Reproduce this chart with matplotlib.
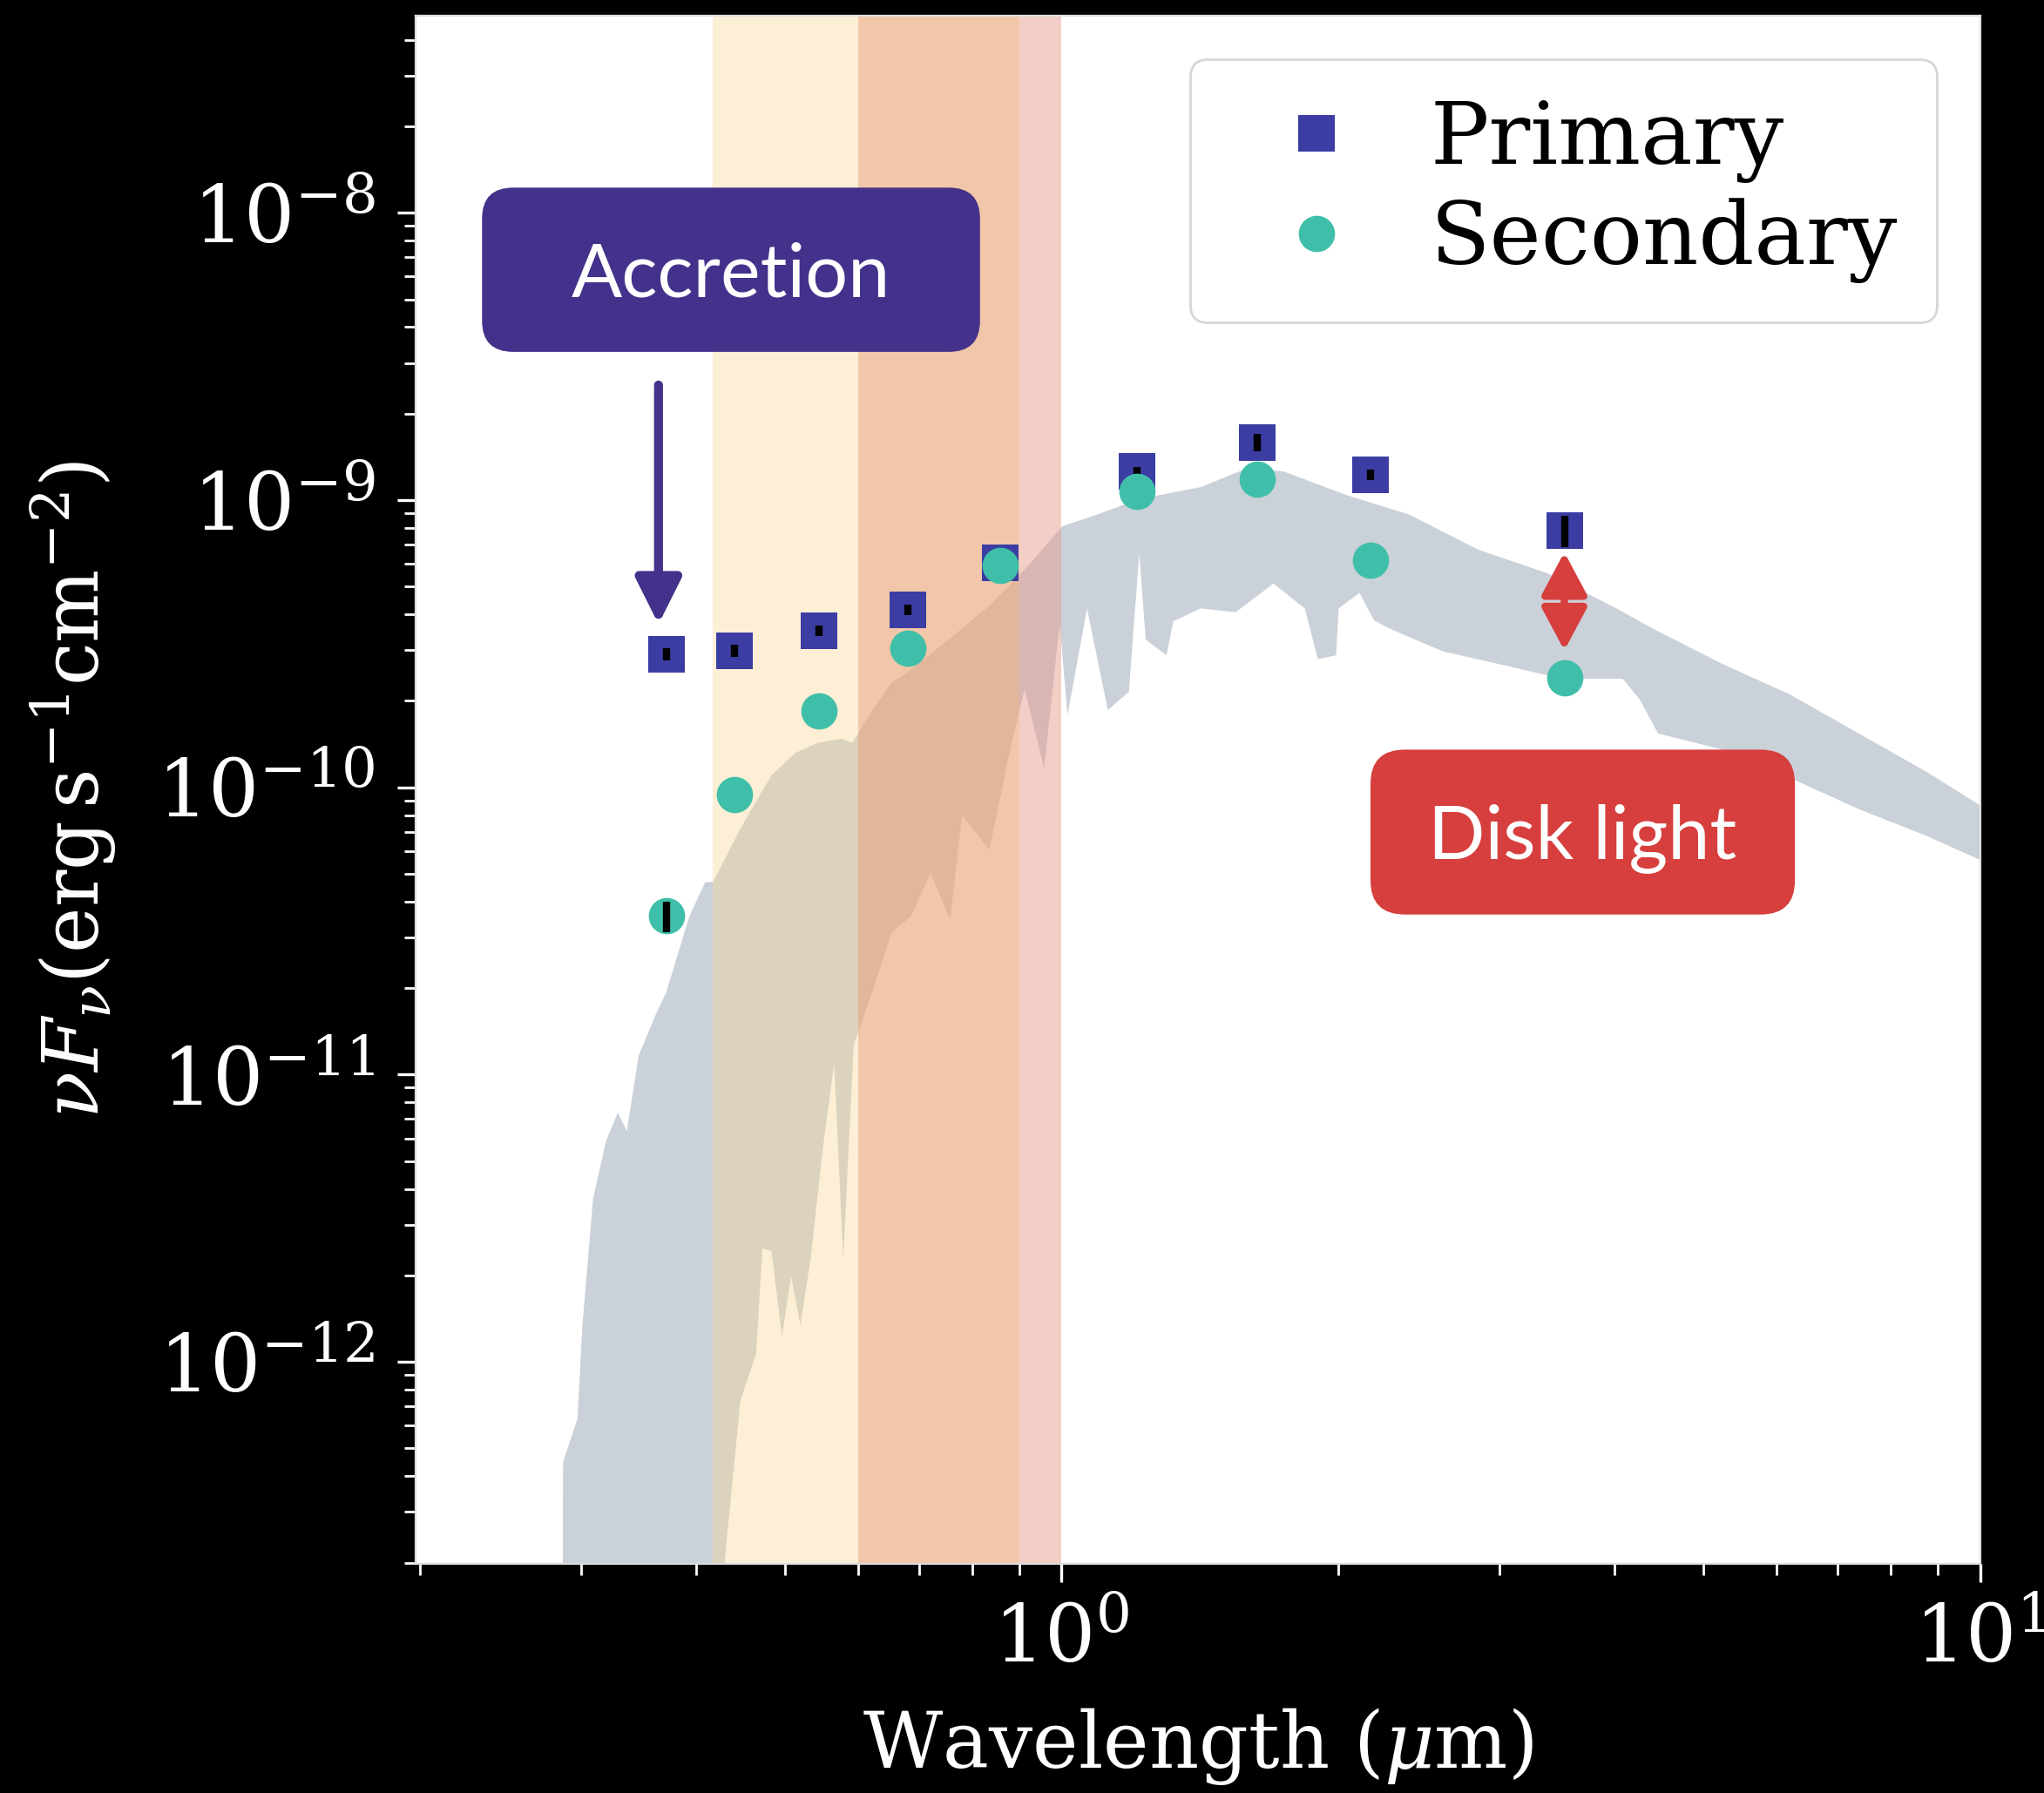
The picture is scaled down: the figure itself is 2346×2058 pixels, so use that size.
import numpy as np
import matplotlib
matplotlib.use("Agg")
import matplotlib.pyplot as plt
from matplotlib.patches import FancyBboxPatch
from matplotlib.ticker import NullFormatter

plt.rcParams['font.family'] = 'DejaVu Serif'
plt.rcParams['mathtext.fontset'] = 'dejavuserif'

# photometry: wavelength (um) and nu F_nu (erg s^-1 cm^-2)
band_wl = [0.3716, 0.4407, 0.5447, 0.6804, 0.858, 1.209, 1.635, 2.170, 3.528]
primary_flux = [2.909e-10, 2.989e-10, 3.506e-10, 4.150e-10, 6.065e-10,
                1.257e-9, 1.591e-9, 1.226e-9, 7.837e-10]
primary_err = [1.4e-11, 1.4e-11, 1.4e-11, 1.7e-11, 2e-11,
               4.5e-11, 1.1e-10, 5.5e-11, 1.0e-10]
secondary_flux = [3.565e-11, 9.46e-11, 1.846e-10, 3.042e-10, 5.927e-10,
                  1.075e-9, 1.180e-9, 6.19e-10, 2.413e-10]
secondary_err = [4.3e-12, 0, 0, 0, 0, 0, 0, 0, 0]

# model spectrum envelope (upper / lower edge of the shaded region)
spec_wl_upper = [0.2857, 0.2866, 0.2971, 0.3010, 0.3090, 0.3191, 0.3287, 0.3363,
                 0.3464, 0.3614, 0.3710, 0.3935, 0.4093, 0.4174, 0.4470, 0.4833,
                 0.5128, 0.5437, 0.5768, 0.5920, 0.6237, 0.6529, 0.6858, 0.7563,
                 0.8345, 0.9204, 1.002, 1.094, 1.215, 1.417, 1.599, 1.746, 2.043,
                 2.389, 2.842, 3.380, 4.018, 4.389, 5.220, 6.207, 7.379, 8.774, 10.0]
spec_flux_upper = [1e-14, 4.48e-13, 6.32e-13, 1.369e-12, 3.694e-12, 5.85e-12,
                   7.36e-12, 6.36e-12, 1.165e-11, 1.612e-11, 1.925e-11, 3.565e-11,
                   4.68e-11, 4.68e-11, 7.18e-11, 1.102e-10, 1.316e-10, 1.431e-10,
                   1.477e-10, 1.431e-10, 1.877e-10, 2.314e-10, 2.569e-10, 3.301e-10,
                   4.285e-10, 5.925e-10, 8.11e-10, 8.91e-10, 1.009e-9, 1.109e-9,
                   1.297e-9, 1.257e-9, 1.041e-9, 8.91e-10, 6.72e-10, 5.565e-10,
                   4.198e-10, 3.588e-10, 2.706e-10, 2.106e-10, 1.540e-10, 1.125e-10,
                   8.66e-11]
spec_wl_lower = [0.2857, 0.4241, 0.4298, 0.4470, 0.4650, 0.4725, 0.4833, 0.4962,
                 0.5077, 0.5195, 0.5332, 0.5491, 0.5655, 0.5785, 0.5939, 0.6237,
                 0.6529, 0.6858, 0.7201, 0.7563, 0.7791, 0.8345, 0.8763, 0.9113,
                 0.9572, 0.9954, 1.015, 1.066, 1.123, 1.184, 1.215, 1.235, 1.301,
                 1.323, 1.417, 1.547, 1.701, 1.840, 1.901, 1.990, 2.003, 2.111,
                 2.188, 2.268, 2.602, 3.094, 3.503, 4.084, 4.262, 4.461, 5.220,
                 6.207, 7.379, 8.774, 10.0]
spec_flux_lower = [1e-14, 1e-14, 2.024e-13, 7.32e-13, 1.066e-12, 2.484e-12,
                   2.433e-12, 1.221e-12, 1.995e-12, 1.341e-12, 2.284e-12, 5.38e-12,
                   1.095e-11, 2.284e-12, 1.268e-11, 1.986e-11, 3.112e-11, 3.565e-11,
                   5.03e-11, 3.455e-11, 7.97e-11, 6.08e-11, 1.289e-10, 2.196e-10,
                   1.161e-10, 3.741e-10, 1.781e-10, 4.198e-10, 1.858e-10, 2.151e-10,
                   6.51e-10, 3.267e-10, 2.882e-10, 3.781e-10, 4.198e-10, 4.068e-10,
                   5.12e-10, 4.198e-10, 2.793e-10, 2.882e-10, 4.198e-10, 4.757e-10,
                   3.82e-10, 3.588e-10, 2.973e-10, 2.623e-10, 2.387e-10, 2.387e-10,
                   2.02e-10, 1.540e-10, 1.358e-10, 1.079e-10, 8.4e-11, 6.745e-11,
                   5.59e-11]

# shaded wavelength ranges (um)
span_edges = [(0.417, 0.6), (0.6, 0.9), (0.9, 1.0)]
span_colors = ['#f8d799', '#edaa7d', '#e79b8d']
span_alpha = [0.4, 0.67, 0.49]

fig = plt.figure(figsize=(11.73, 10.29), dpi=200, facecolor='black')
ax = fig.add_axes([0.2033, 0.1278, 0.7654, 0.8635])
ax.set_facecolor('white')
ax.set_xscale('log')
ax.set_yscale('log')

# spectrum polygon
poly_x = np.concatenate([spec_wl_upper, spec_wl_lower[::-1]])
poly_y = np.concatenate([spec_flux_upper, spec_flux_lower[::-1]])
ax.fill(poly_x, poly_y, color='#cbd1d8', lw=0, zorder=1)

for (a, b), c, al in zip(span_edges, span_colors, span_alpha):
    ax.axvspan(a, b, color=c, alpha=al, lw=0, zorder=1.5)

# markers first, error bars drawn over them
ax.plot(band_wl, primary_flux, 's', color='#3b3da3', ms=15, mew=0,
        zorder=3, label='Primary')
ax.errorbar(band_wl, primary_flux, yerr=primary_err, fmt='none', ecolor='black',
            elinewidth=3, capsize=0, zorder=3.5)
ax.plot(band_wl, secondary_flux, 'o', color='#3fbfa9', ms=15, mew=0,
        zorder=4, label='Secondary')
ax.errorbar(band_wl, secondary_flux, yerr=secondary_err, fmt='none', ecolor='black',
            elinewidth=3, capsize=0, zorder=4.5)

ax.set_xlim(0.198, 10)
ax.set_ylim(1.98e-13, 4.86e-8)

ax.tick_params(which='both', direction='out', colors='white', labelsize=33)
ax.tick_params(which='major', length=7.7, width=1.2)
ax.tick_params(which='minor', length=4.6, width=1.0)
ax.tick_params(axis='y', pad=9)
ax.tick_params(axis='x', pad=8)
ax.xaxis.set_minor_formatter(NullFormatter())
ax.yaxis.set_minor_formatter(NullFormatter())
for s in ax.spines.values():
    s.set_color('#dddddd')

ax.set_xlabel(r'Wavelength ($\mu$m)', color='white', fontsize=32, labelpad=11)
ax.set_ylabel(r'$\nu F_\nu(\mathrm{erg\,s^{-1}cm^{-2}})$', color='white',
              fontsize=32, labelpad=16)

leg = ax.legend(loc='upper right', fontsize=36, labelspacing=0.18,
                handletextpad=0.3, borderpad=0.45)

# annotation boxes
acc = FancyBboxPatch((0.0425, 0.7828), 0.3183, 0.1061,
                     boxstyle='round,pad=0,rounding_size=0.02',
                     transform=ax.transAxes, fc='#44318b', ec='none', zorder=6)
ax.add_patch(acc)
ax.text(0.2017, 0.8318, 'Accretion', transform=ax.transAxes, color='white',
        fontsize=31, family='Lato', ha='center', va='center', zorder=7)
ax.annotate('', xy=(0.1553, 0.6069), xytext=(0.1553, 0.7614),
            xycoords='axes fraction', textcoords='axes fraction',
            arrowprops=dict(arrowstyle='-|>,head_length=0.8,head_width=0.4',
                            color='#44318b', lw=3.7, mutation_scale=20,
                            shrinkA=0, shrinkB=0), zorder=6)

disk = FancyBboxPatch((0.6104, 0.4194), 0.2713, 0.1065,
                      boxstyle='round,pad=0,rounding_size=0.022',
                      transform=ax.transAxes, fc='#d73e3e', ec='none', zorder=6)
ax.add_patch(disk)
ax.text(0.7458, 0.4685, 'Disk light', transform=ax.transAxes, color='white',
        fontsize=31, family='Lato', ha='center', va='center', zorder=7)
ax.annotate('', xy=(0.7343, 0.5900), xytext=(0.7343, 0.6534),
            xycoords='axes fraction', textcoords='axes fraction',
            arrowprops=dict(arrowstyle='<|-|>,head_length=0.75,head_width=0.4',
                            color='#d73e3e', lw=3, mutation_scale=20,
                            shrinkA=0, shrinkB=0), zorder=6)

fig.savefig('out.png', dpi=200, facecolor='black')
